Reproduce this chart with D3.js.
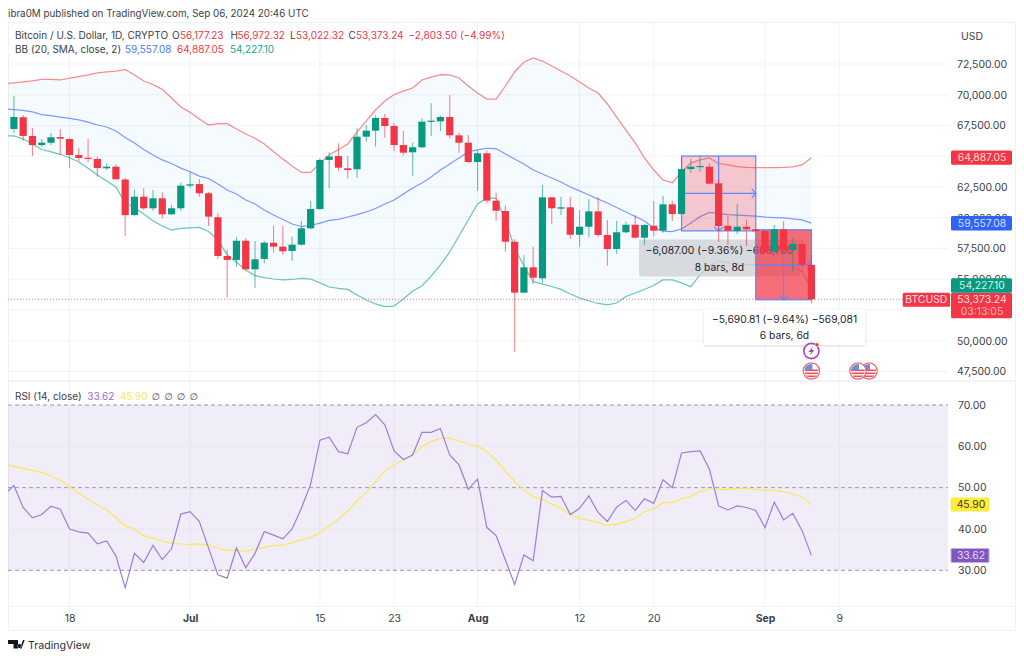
<!DOCTYPE html>
<html><head><meta charset="utf-8">
<script src="https://cdn.jsdelivr.net/npm/d3@7/dist/d3.min.js"></script>
<style>
html,body{margin:0;padding:0;background:#fff}
svg{display:block}
text{font-family:Inter,"Noto Sans",sans-serif;font-size:10.4px;fill:#3a3e49}
</style></head><body>
<div id="chart"></div>
<script>
// ---------- data ----------
const opens=[67220,68170,66650,65910,66100,66560,66400,65100,64880,64780,64020,64150,63110,60220,61710,60770,61580,60280,60770,62610,62740,61990,60040,56890,56570,58130,55810,56650,57970,57650,57300,57810,59140,60710,64700,65020,64020,63940,66590,67080,68110,67460,65910,65320,65730,67840,67840,68190,66700,66100,64530,65240,61390,60550,58050,53910,55970,55080,61660,60740,60850,58620,59270,60520,58600,57460,58820,59430,58380,59350,58950,61090,60300,63960,64150,64150,62800,59350,58920,59270,59060,58920,57220,59060,57380,57870,56177.23];
const highs=[69900,68350,67300,66400,66890,67220,66480,65650,66400,64960,64430,64350,63260,62260,62390,62260,62070,61040,62850,63740,63150,62120,60360,57430,58410,58330,58110,58130,59350,59350,58460,59760,61360,64830,65350,66050,65020,67320,67540,68330,68430,67680,67050,66100,68080,69300,68300,69980,66910,66730,65510,65450,62040,60980,58250,56970,57650,62660,61690,61710,61710,60630,61500,61660,59820,59760,59680,60220,59490,61360,61790,61360,64960,64780,65020,64430,63130,60140,61090,59820,59090,59000,59410,59740,58380,58250,56972.32];
const lows=[66890,66240,65020,65750,65910,65100,64020,64610,64530,63340,63880,63100,58520,60170,60630,60570,59950,60220,60570,62390,61710,59330,56650,53530,56020,55750,54260,56300,57160,57000,56510,57730,59060,60630,62390,63820,63210,63260,66180,65780,66510,65430,65040,63420,65650,66650,67050,66430,65290,64480,62200,61180,59760,57240,49110,53860,54590,54670,59490,60220,58300,57650,58410,58460,56100,57050,58740,58330,57790,58540,58780,59740,60260,63640,63740,62740,58050,57790,58680,57700,58840,57200,57180,56970,55610,55610,53022.32];
const closes=[68190,66650,65910,66100,66540,66430,65100,64860,64800,64040,64150,63130,60210,61710,60770,61580,60280,60770,62610,62720,61990,60090,56890,56570,58130,55810,56620,57970,57650,57270,57810,59140,60710,64700,64980,64070,63880,66590,67080,68110,67460,65910,65290,65730,67810,67890,68190,66700,66100,64530,65240,61390,60570,58050,53910,55970,55130,61660,60770,60850,58620,59270,60520,58600,57460,58820,59430,58380,59410,58950,61090,60300,63960,64150,64210,62770,59330,58950,59270,59060,58900,57220,59060,57380,57870,56177.23,53373.24];
// Bollinger bands start one session earlier (Jun 11), cut by the pane edge
const bbUpper=[70910,70960,71040,71120,71240,71240,71200,71360,71480,71610,71770,71850,71930,72050,71610,71120,70830,70440,69740,69000,68570,68030,67540,67660,67650,67220,66810,66460,66000,65370,64780,64210,63680,63680,64430,65100,65550,66000,66970,67870,68760,69490,70020,70300,70550,71200,71440,71630,71610,71360,70710,70140,69650,69650,70710,71850,72660,72990,72740,72340,71930,71520,71040,70550,70140,69250,68190,67130,66080,64860,63880,63070,62850,63720,64450,64700,64860,64410,64290,64150,64100,64070,64080,64080,64100,64130,64290,64887.05];
const bbBasis=[68840,68800,68720,68600,68390,68310,68190,68080,67950,67780,67540,67380,67050,66520,66080,65550,65100,64700,64410,64040,63740,63390,63190,62740,62260,61930,61440,61120,60630,60220,59860,59490,59290,59370,59570,59780,59860,60060,60260,60470,60750,61120,61440,61930,62420,62820,63310,63880,64370,64860,65350,65510,65650,65630,65180,64780,64370,63880,63560,63230,62910,62500,62180,61850,61520,61200,60830,60470,60100,59740,59170,58920,58880,59090,59570,60090,60430,60350,60260,60220,60180,60140,60060,60020,59980,59900,59820,59557.08];
const bbLower=[66650,66650,66400,66000,65550,65350,65160,64880,64530,64020,63480,62990,62500,61200,60830,60300,59760,59330,59000,59130,59170,59220,58880,58190,56970,56400,55750,55300,55140,55020,54940,54980,55080,55020,54700,54370,54250,54170,53720,53310,52990,52770,52820,53390,54040,54450,55260,56160,57220,58520,59820,61120,61610,61580,59820,57540,56080,54800,54610,54410,54180,53800,53480,53230,53030,52910,53070,53600,53880,54170,54490,54940,54940,54700,54390,55350,56080,56480,56360,56240,56200,56160,56160,56160,56160,56000,55590,54227.10];
const rsi=[48.4,50.5,45.2,42.7,43.5,45.5,44.8,40,39.3,39,36.4,37.1,33.5,25.8,34.1,31.9,36,32.6,35.2,43.6,44.2,41.8,35.3,28.9,28.1,35.4,30.6,34.1,39.4,38.5,37.6,40,45,50.8,61.5,62.2,58.7,58.2,64.6,65.7,67.7,65.2,58.9,56.8,57.9,63.4,63.4,64.3,57.9,55.5,49.6,52.1,40.4,38.4,32.5,26.6,33.7,32.3,49.3,47.7,47.9,43.5,45,48,44,41.8,45.3,46.9,44.5,47.3,46.2,51.9,50,58.4,58.7,58.9,54.5,45.6,44.6,45.6,45.2,44.5,40.3,46.5,42.2,43.8,39.6,33.62];
const rsiMa=[55.65,55.16,54.68,54.19,53.63,52.82,51.86,50.24,48.63,47.18,45.81,44.6,42.82,40.73,39.92,38.39,37.74,37.1,36.53,36.37,36.29,36.37,36.13,35.4,34.84,34.84,34.6,35.16,35.56,36.05,36.13,36.69,37.34,37.9,39.11,40.73,42.34,44.35,46.77,48.87,51.45,54.03,55.48,56.69,57.9,59.92,61.13,61.94,61.94,61.29,60.57,60.16,58.71,56.69,54.03,51.45,49.44,47.82,47.18,46.05,45,43.55,42.58,42.1,41.61,40.89,41.13,41.77,42.58,44.11,44.84,46.37,46.45,47.26,47.98,49.11,49.68,49.6,49.6,49.84,49.84,49.6,49.35,49.35,49.03,48.47,47.74,45.9];
const priceGrid=[72500,70000,67500,65000,62500,60000,57500,55000,52500,50000,47500];
const priceLabels=[72500,70000,67500,62500,60000,57500,55000,50000,47500];
const rsiTicks=[70,60,50,40,30];
const rsiDashed=[70,50,30];
const timeTickDates=["2024-06-18","2024-07-01","2024-07-15","2024-07-23","2024-08-01","2024-08-12","2024-08-20","2024-09-01","2024-09-09"];
const timeTickLabels=["18","Jul","15","23","Aug","12","20","Sep","9"];
const boldTicks=["Jul","Aug","Sep"];
const measures=[
 {from:"2024-08-23",to:"2024-08-31",hi:65020,lo:58933,fill:"rgba(242,54,69,.26)"},
 {from:"2024-08-31",to:"2024-09-06",hi:59022,lo:53331,fill:"rgba(242,54,69,.72)"}];
const flagDates=["2024-09-06","2024-09-11","2024-09-10"];
const C={red:"#f23645",green:"#089981",blue:"#5f86fb",bbBlue:"#7c9cf9",bbRed:"#f98a8e",bbGreen:"#6fc6b1",purple:"#9a7ed8",yellow:"#fde65a",grid:"#f2f3f6",text:"#3a3e49",dark:"#1f222b"};
const LEG=10,AX=10.4;

// ---------- scales ----------
const W=1024,H=659;
const paneL=8,axisL=948,frameR=1015,paneTop=22,split=381,paneBottom=606.5,frameB=630;
const parse=d3.utcParse("%Y-%m-%d");
const day0=parse("2024-06-12");
const x=d3.scaleUtc().domain([day0,parse("2024-09-09")]).range([13.9,839.2]);
const candleDates=opens.map((_,i)=>d3.utcDay.offset(day0,i));
const bbDates=bbUpper.map((_,i)=>d3.utcDay.offset(day0,i-1));
const rsiDates=rsi.map((_,i)=>d3.utcDay.offset(day0,i-1));
const y=d3.scaleLinear().domain([72500,47500]).range([64,371.5]);
const yR=d3.scaleLinear().domain([70,30]).range([405,570.3]);
const fmt=d3.format(",.2f");
const tickD=timeTickDates.map(parse);

const svg=d3.select("#chart").append("svg").attr("width",W).attr("height",H);
const defs=svg.append("defs");
defs.append("clipPath").attr("id","cp").append("rect").attr("x",paneL).attr("y",paneTop).attr("width",axisL-paneL).attr("height",split-paneTop);
defs.append("clipPath").attr("id","cr").append("rect").attr("x",paneL).attr("y",split).attr("width",axisL-paneL).attr("height",paneBottom-split);
const sh=defs.append("filter").attr("id","sh").attr("x","-10%").attr("y","-20%").attr("width","120%").attr("height","150%");
sh.append("feDropShadow").attr("dx",0).attr("dy",1).attr("stdDeviation",1.6).attr("flood-color","#000").attr("flood-opacity",.16);

// frame + grid
svg.append("rect").attr("x",paneL+.5).attr("y",paneTop+.5).attr("width",frameR-paneL).attr("height",frameB-paneTop).attr("fill","#fff").attr("stroke","#eff1f5");
const hg=svg.append("g").attr("stroke",C.grid).attr("stroke-width",1);
hg.selectAll(".h").data(priceGrid).join("line").attr("x1",paneL).attr("x2",axisL).attr("y1",d=>y(d)).attr("y2",d=>y(d));
hg.selectAll(".v").data(tickD).join("line").attr("x1",d=>x(d)).attr("x2",d=>x(d)).attr("y1",paneTop).attr("y2",paneBottom);
svg.append("line").attr("x1",paneL).attr("x2",frameR).attr("y1",split).attr("y2",split).attr("stroke","#e6e8ee");
svg.append("line").attr("x1",paneL).attr("x2",frameR).attr("y1",paneBottom).attr("y2",paneBottom).attr("stroke","#f2f3f6");

// price pane
const gp=svg.append("g").attr("clip-path","url(#cp)");
gp.append("path").datum(d3.range(bbDates.length)).attr("fill","rgba(33,150,243,.05)")
  .attr("d",d3.area().x(i=>x(bbDates[i])).y0(i=>y(bbLower[i])).y1(i=>y(bbUpper[i])));
[[bbUpper,C.bbRed],[bbBasis,C.bbBlue],[bbLower,C.bbGreen]].forEach(([arr,col])=>{
  gp.append("path").datum(arr).attr("fill","none").attr("stroke",col).attr("stroke-width",1.25)
    .attr("d",d3.line().x((d,i)=>x(bbDates[i])).y(d=>y(d)));
});
// dotted last price line
gp.append("line").attr("x1",paneL).attr("x2",axisL).attr("y1",y(closes[closes.length-1])).attr("y2",y(closes[closes.length-1]))
  .attr("stroke",C.red).attr("stroke-opacity",.65).attr("stroke-dasharray","1 2");

function measure(m){
  const x0=x(parse(m.from)),x1=x(parse(m.to)),y0=y(m.hi),y1=y(m.lo);
  const xm=(x0+x1)/2,ym=(y0+y1)/2;
  const g=gp.append("g");
  g.append("rect").attr("x",x0).attr("y",y0).attr("width",x1-x0).attr("height",y1-y0).attr("fill",m.fill).attr("stroke",C.blue).attr("stroke-width",1.2);
  g.append("path").attr("fill","none").attr("stroke",C.blue).attr("stroke-width",1.2)
   .attr("d",`M${x0},${ym}H${x1}M${x1-4},${ym-4.5}L${x1},${ym}L${x1-4},${ym+4.5}M${xm},${y0}V${y1}M${xm-4.5},${y1-4}L${xm},${y1}L${xm+4.5},${y1-4}`);
}
measure(measures[0]);
// grey label of first measure
gp.append("rect").attr("x",639).attr("y",239.5).attr("width",161).attr("height",37).attr("rx",3).attr("fill","rgba(207,210,214,.8)");
gp.append("text").attr("x",719.5).attr("y",254).attr("text-anchor","middle").style("fill",C.dark).style("font-size","10.3px").text("\u22126,087.00 (\u22129.36%) \u2212608,700");
gp.append("text").attr("x",719.5).attr("y",270.5).attr("text-anchor","middle").style("fill",C.dark).style("font-size","10.3px").text("8 bars, 8d");
measure(measures[1]);

// candles
const cg=gp.append("g");
const up=i=>closes[i]>=opens[i];
cg.selectAll(".w").data(d3.range(opens.length)).join("line")
  .attr("x1",i=>x(candleDates[i])).attr("x2",i=>x(candleDates[i]))
  .attr("y1",i=>y(highs[i])).attr("y2",i=>y(lows[i]))
  .attr("stroke",i=>up(i)?C.green:C.red).attr("stroke-opacity",.6).attr("stroke-width",1.1);
cg.selectAll(".b").data(d3.range(opens.length)).join("rect")
  .attr("x",i=>x(candleDates[i])-3.6).attr("width",7.2)
  .attr("y",i=>y(Math.max(opens[i],closes[i])))
  .attr("height",i=>Math.max(1.2,Math.abs(y(opens[i])-y(closes[i]))))
  .attr("fill",i=>up(i)?C.green:C.red);

// white label of second measure
const lab2=svg.append("g");
lab2.append("rect").attr("x",704).attr("y",309.5).attr("width",161).attr("height",35.5).attr("rx",3).attr("fill","#fff").attr("filter","url(#sh)");
lab2.append("text").attr("x",784.5).attr("y",322.5).attr("text-anchor","middle").style("fill",C.dark).style("font-size","10.3px").text("\u22125,690.81 (\u22129.64%) \u2212569,081");
lab2.append("text").attr("x",784.5).attr("y",339).attr("text-anchor","middle").style("fill",C.dark).style("font-size","10.3px").text("6 bars, 6d");

// event icons
function flag(cx,cy,id){
  const g=svg.append("g").attr("transform",`translate(${cx},${cy})`);
  defs.append("clipPath").attr("id",id).append("circle").attr("r",7);
  g.append("circle").attr("r",8.2).attr("fill","#fff").attr("stroke","#f0616a").attr("stroke-width",1.2);
  const f=g.append("g").attr("clip-path",`url(#${id})`);
  f.append("rect").attr("x",-7).attr("y",-7).attr("width",14).attr("height",14).attr("fill","#fff");
  [-1.5,1.5,4.5].forEach(s=>f.append("rect").attr("x",-7).attr("y",s).attr("width",14).attr("height",1.6).attr("fill","#e8505b"));
  f.append("rect").attr("x",-7).attr("y",-7).attr("width",8).attr("height",6).attr("fill","#6f8fd8");
}
const bx=x(parse("2024-09-06"));
const bolt=svg.append("g").attr("transform",`translate(${bx},351)`);
bolt.append("circle").attr("r",7.6).attr("fill","#fff").attr("stroke","#ab47bc").attr("stroke-width",1.6);
bolt.append("path").attr("d","M1.6,-4.6L-3,0.9H-0.3L-1.4,4.6L3,-0.9H0.4Z").attr("fill","#ab47bc");
bolt.append("circle").attr("cx",5.6).attr("cy",-6.2).attr("r",2).attr("fill","#f23645").attr("stroke","#fff").attr("stroke-width",.6);
flag(x(parse(flagDates[0])),371,"f0");
flag(869,371,"f2");
flag(858,371,"f1");

// rsi pane
const gr=svg.append("g").attr("clip-path","url(#cr)");
gr.append("rect").attr("x",paneL).attr("width",axisL-paneL).attr("y",yR(70)).attr("height",yR(30)-yR(70)).attr("fill","rgba(126,87,194,.11)");
gr.selectAll(".r").data(rsiTicks.filter(d=>!rsiDashed.includes(d))).join("line").attr("x1",paneL).attr("x2",axisL).attr("y1",d=>yR(d)).attr("y2",d=>yR(d)).attr("stroke","#e9e7f1");
gr.selectAll(".d").data(rsiDashed).join("line").attr("x1",paneL).attr("x2",axisL).attr("y1",d=>yR(d)).attr("y2",d=>yR(d))
  .attr("stroke","#9a9aa5").attr("stroke-width",1).attr("stroke-dasharray","4 3");
gr.append("path").datum(rsiMa).attr("fill","none").attr("stroke",C.yellow).attr("stroke-width",1.2)
  .attr("d",d3.line().x((d,i)=>x(rsiDates[i])).y(d=>yR(d)));
gr.append("path").datum(rsi).attr("fill","none").attr("stroke",C.purple).attr("stroke-width",1.2)
  .attr("d",d3.line().x((d,i)=>x(rsiDates[i])).y(d=>yR(d)));

// axes
function clean(g){g.select(".domain").remove();g.selectAll(".tick line").remove();g.selectAll("text").style("fill",C.text).style("font-size",AX+"px").style("font-family",'Inter,"Noto Sans",sans-serif');}
svg.append("g").attr("transform","translate(948,0)").call(d3.axisRight(y).tickValues(priceLabels).tickFormat(fmt).tickSize(0).tickPadding(9)).call(clean);
svg.append("g").attr("transform","translate(948,0)").call(d3.axisRight(yR).tickValues(rsiTicks).tickFormat(d3.format(".2f")).tickSize(0).tickPadding(10)).call(clean);
svg.append("g").attr("transform",`translate(0,${paneBottom})`).call(d3.axisBottom(x).tickValues(tickD).tickFormat((d,i)=>timeTickLabels[i]).tickSize(0).tickPadding(8.5)).call(clean)
  .selectAll("text").style("font-weight",(d,i)=>boldTicks.includes(timeTickLabels[i])?"700":"400");

// price labels
function tag(xx,w,cy,h,fill,txt,col,anchorX){
  svg.append("rect").attr("x",xx).attr("y",cy-h/2).attr("width",w).attr("height",h).attr("rx",1.5).attr("fill",fill);
  svg.append("text").attr("x",anchorX).attr("y",cy+3.7).attr("text-anchor","middle").style("fill",col).text(txt);
}
const lbx=951,lbw=61,lcx=982;
tag(lbx,lbw,y(bbUpper[87]),14.4,C.red,fmt(bbUpper[87]),"#ffd9dc",lcx);
tag(lbx,lbw,y(bbBasis[87]),14.4,"#2f62f5",fmt(bbBasis[87]),"#d6e0ff",lcx);
svg.append("rect").attr("x",lbx).attr("y",292.7).attr("width",lbw).attr("height",25.6).attr("rx",1.5).attr("fill",C.red);
tag(lbx,lbw,285.5,14.4,C.green,fmt(bbLower[87]),"#d5f2eb",lcx);
svg.append("text").attr("x",lcx).attr("y",303).attr("text-anchor","middle").style("fill","#ffdfe1").text(fmt(closes[86]));
svg.append("text").attr("x",lcx).attr("y",315).attr("text-anchor","middle").style("fill","#ffb3b8").text("03:13:05");
tag(902.7,47.3,299.7,14,C.red,"BTCUSD","#ffdfe1",926.3);
tag(950.7,38.6,yR(rsiMa[87]),14,"#ffeb3b",d3.format(".2f")(rsiMa[87]),"#3a3a20",971);
svg.append("rect").attr("x",951).attr("y",548.5).attr("width",38).attr("height",14).attr("rx",1).attr("fill","#7e57c2").attr("stroke","#c3b0e6");
svg.append("text").attr("x",971).attr("y",559.2).attr("text-anchor","middle").style("fill","#e6dcf7").text(d3.format(".2f")(rsi[87]));

// header and legends
function t(xx,yy,s,col,size){const e=svg.append("text").attr("x",xx).attr("y",yy).style("fill",col||C.text).style("font-size",(size||LEG)+"px").text(s);return e;}
t(8,16.5,"ibra0M published on TradingView.com, Sep 06, 2024 20:46 UTC",C.text,9.85);
t(15,39,"Bitcoin / U.S. Dollar, 1D, CRYPTO");
t(172,39,"O");t(180,39,fmt(opens[86]),C.red);
t(230.5,39,"H");t(237.5,39,fmt(highs[86]),C.red);
t(290,39,"L");t(296,39,fmt(lows[86]),C.red);
t(348.5,39,"C");t(356,39,fmt(closes[86]),C.red);
t(408.5,39,"\u22122,803.50 (\u22124.99%)",C.red);
t(15,53,"BB (20, SMA, close, 2)");
t(125,53,fmt(bbBasis[87]),"#4a78f5");t(177,53,fmt(bbUpper[87]),C.red);t(230,53,fmt(bbLower[87]),"#17a58c");
t(15,399.5,"RSI (14, close)");
t(87.3,399.5,d3.format(".2f")(rsi[87]),"#9270d2");t(120,399.5,d3.format(".2f")(rsiMa[87]),"#fde65a");
[155.7,168.3,181,193.6].forEach(xx=>{svg.append("text").attr("x",xx).attr("y",399.5).attr("text-anchor","middle").style("font-family","DejaVu Sans").style("font-size","9.5px").style("fill",C.text).text("\u2205");});
t(961,40,"USD",C.text,AX);

// logo
svg.append("path").attr("fill","#131722").attr("d","M8,640H18V648.5H13.5V644H8ZM19.5,644a2,2 0 1 0 0.01,0ZM20,648.5L23,640H24.6L21.6,648.5Z");
t(28,649,"TradingView","#2a2e39",10.6);
</script>
</body></html>
